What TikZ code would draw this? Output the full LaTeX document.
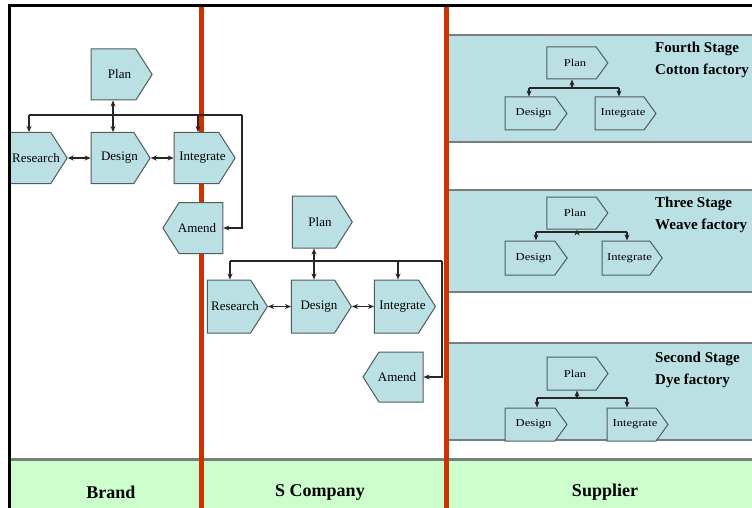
\documentclass[tikz,border=0pt]{standalone}
\usepackage{fontspec}
\setmainfont{Liberation Serif}
\newfontfamily\widefont[FakeStretch=1.2]{Liberation Serif}
\usetikzlibrary{shapes.symbols,arrows.meta}
\definecolor{nodefill}{RGB}{186,224,228}
\definecolor{nodeline}{RGB}{80,92,92}
\definecolor{lanered}{RGB}{204,51,0}
\definecolor{bandgreen}{RGB}{204,255,204}
\definecolor{rulegrey}{RGB}{120,125,125}
% text shifted sideways by #1/2 inside a node without widening it
\newcommand\shiftedtext[2]{\makebox[0pt]{\hspace*{#1pt}#2}}
\tikzset{
  proc/.style={signal, signal to=east, signal pointer angle=115, draw=nodeline, fill=nodefill,
    line width=1pt, inner sep=0pt, minimum width=61pt, minimum height=51pt,
    font=\fontsize{13}{13}\selectfont},
  procleft/.style={proc, signal to=west},
  subproc/.style={proc, signal pointer angle=108, minimum height=33pt,
    font=\widefont\fontsize{10.5}{10.5}\selectfont},
  link/.style={line width=1.1pt, draw=black!85},
  onearrow/.style={-{Stealth[length=6pt,width=5pt]}},
  twoarrows/.style={{Stealth[length=6pt,width=5pt]}-{Stealth[length=6pt,width=5pt]}},
  supbox/.style={fill=nodefill},
  supedge/.style={draw=rulegrey, line width=2pt},
  stagelabel/.style={anchor=north west, align=left, inner sep=0pt,
    font=\bfseries\fontsize{15}{22}\selectfont},
  lanelabel/.style={font=\bfseries\fontsize{18}{18}\selectfont},
  redline/.style={draw=lanered, line width=5pt},
}
\begin{document}
\begin{tikzpicture}[x=1pt,y=-1pt]
\useasboundingbox (0,0) rectangle (752,508);
\fill[white] (0,0) rectangle (752,508);
\begin{scope}
\clip (9,6) rectangle (752,508);
% bottom band
\fill[bandgreen] (9,459) rectangle (752,508);
\draw[supedge,line width=3pt] (9,459) -- (752,459);
% supplier boxes
\fill[supbox] (449,35) rectangle (752,142);
\draw[supedge] (449,35) -- (752,35);
\draw[supedge] (449,142) -- (752,142);
\fill[supbox] (449,190) rectangle (752,292);
\draw[supedge] (449,190) -- (752,190);
\draw[supedge] (449,292) -- (752,292);
\fill[supbox] (449,343) rectangle (752,440);
\draw[supedge] (449,343) -- (752,343);
\draw[supedge] (449,440) -- (752,440);
% lane separators
\draw[redline] (201,0) -- (201,508);
\draw[redline] (446,0) -- (446,508);
% lane labels
\node[lanelabel] (lbrand) at (111,492) {Brand};
\node[lanelabel] (lscomp) at (320,492) {S Company};
\node[lanelabel] (lsupp) at (605,492) {Supplier};

% ---- Brand lane ----
\node[proc] (bplan) at (113.5,74.5) {\shiftedtext{12}{Plan}};
\node[proc, minimum width=62pt] (bres) at (28,158) {\shiftedtext{16}{Research}};
\node[proc, minimum width=59pt] (bdes) at (112.5,158) {\shiftedtext{14}{Design}};
\node[proc] (bint) at (196.5,158) {\shiftedtext{12}{Integrate}};
\node[procleft, minimum width=60pt] (bamend) at (201,228) {\shiftedtext{-8}{Amend}};
\coordinate (bx) at (113,115);
\coordinate (bl) at (29,115);
\coordinate (bi) at (198,115);
\coordinate (br) at (242,115);
\coordinate (bra) at (242,228);
\draw[link] (bl) -- (br);
\draw[link,twoarrows] (bplan.south -| bx) -- (bdes.north -| bx);
\draw[link,onearrow] (bl) -- (bres.north -| bl);
\draw[link,onearrow] (bi) -- (bint.north -| bi);
\draw[link,onearrow] (br) -- (bra) -- (bamend.east);
\draw[link,twoarrows] (bres.east) -- (bdes.west);
\draw[link,twoarrows] (bdes.east) -- (bint.west);

% ---- S Company lane ----
\node[proc, minimum height=52pt, minimum width=60pt] (splan) at (314,222) {\shiftedtext{12}{Plan}};
\node[proc, minimum height=53pt, minimum width=60pt] (sres) at (229,306.5) {\shiftedtext{12}{Research}};
\node[proc, minimum height=53pt, minimum width=60pt] (sdes) at (313,306.5) {\shiftedtext{12}{Design}};
\node[proc, minimum height=53pt] (sint) at (396.5,306.5) {\shiftedtext{12}{Integrate}};
\node[procleft, minimum height=50pt, minimum width=60pt] (samend) at (401,377) {\shiftedtext{-8}{Amend}};
\coordinate (sx) at (314,261);
\coordinate (sl) at (230,261);
\coordinate (si) at (398,261);
\coordinate (sr) at (442,261);
\coordinate (sra) at (442,377);
\draw[link] (sl) -- (sr);
\draw[link,twoarrows] (splan.south -| sx) -- (sdes.north -| sx);
\draw[link,onearrow] (sl) -- (sres.north -| sl);
\draw[link,onearrow] (si) -- (sint.north -| si);
\draw[link,onearrow] (sr) -- (sra) -- (samend.east);
\draw[link,twoarrows] (sres.east) -- (sdes.west);
\draw[link,twoarrows] (sdes.east) -- (sint.west);

% ---- Supplier: fourth stage ----
\node[subproc, minimum height=32pt] (p1) at (571.5,63) {\shiftedtext{7}{Plan}};
\node[subproc, minimum width=62pt] (d1) at (530,113.5) {\shiftedtext{7}{Design}};
\node[subproc] (i1) at (619.5,113.5) {\shiftedtext{7}{Integrate}};
\coordinate (j1l) at (529,88);
\coordinate (j1m) at (572,88);
\coordinate (j1r) at (619,88);
\draw[link] (j1l) -- (j1r);
\draw[link,onearrow] (j1m) -- (p1.south -| j1m);
\draw[link,onearrow] (j1l) -- (d1.north -| j1l);
\draw[link,onearrow] (j1r) -- (i1.north -| j1r);
\node[stagelabel] (stage1) at (655,42) {Fourth Stage\\Cotton factory};

% ---- Supplier: three stage ----
\node[subproc, minimum height=32pt] (p2) at (571.5,213) {\shiftedtext{7}{Plan}};
\node[subproc, minimum width=62pt, minimum height=34pt] (d2) at (530,258) {\shiftedtext{7}{Design}};
\node[subproc, minimum width=60pt, minimum height=34pt] (i2) at (626,258) {\shiftedtext{7}{Integrate}};
\coordinate (j2l) at (536,232);
\coordinate (j2m) at (577,232);
\coordinate (j2r) at (627,232);
\draw[link] (j2l) -- (j2r);
\draw[link,onearrow] (j2m) -- (p2.south -| j2m);
\draw[link,onearrow] (j2l) -- (d2.north -| j2l);
\draw[link,onearrow] (j2r) -- (i2.north -| j2r);
\node[stagelabel] (stage2) at (655,197) {Three Stage\\Weave factory};

% ---- Supplier: second stage ----
\node[subproc] (p3) at (571.5,373.5) {\shiftedtext{7}{Plan}};
\node[subproc, minimum width=62pt] (d3) at (530,424.5) {\shiftedtext{7}{Design}};
\node[subproc] (i3) at (631.5,424.5) {\shiftedtext{7}{Integrate}};
\coordinate (j3l) at (537,398);
\coordinate (j3m) at (577,398);
\coordinate (j3r) at (627,398);
\draw[link] (j3l) -- (j3r);
\draw[link,onearrow] (j3m) -- (p3.south -| j3m);
\draw[link,onearrow] (j3l) -- (d3.north -| j3l);
\draw[link,onearrow] (j3r) -- (i3.north -| j3r);
\node[stagelabel] (stage3) at (655,352) {Second Stage\\Dye factory};
\end{scope}
% outer border
\draw[black, line width=3pt] (9,508) -- (9,6) -- (752,6);
\end{tikzpicture}
\end{document}
